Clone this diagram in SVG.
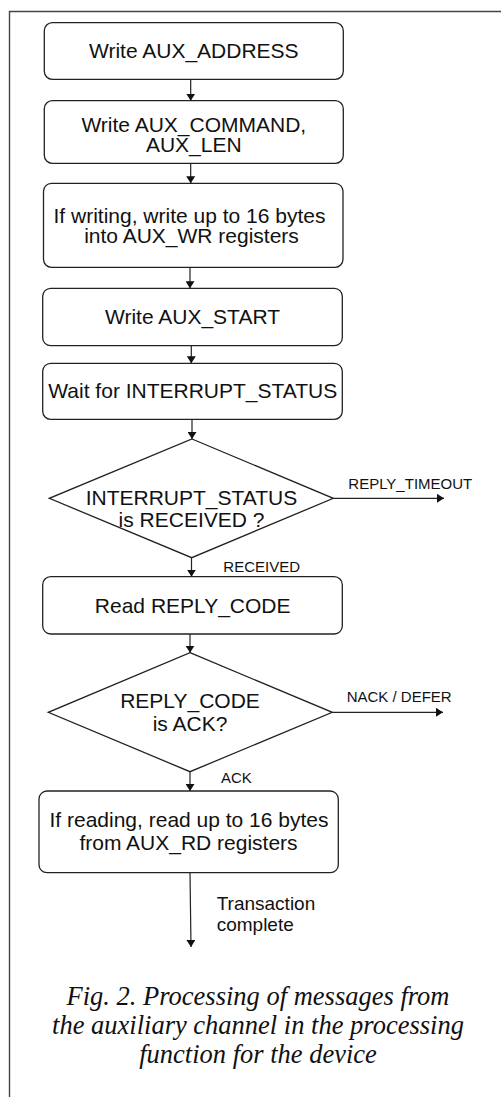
<svg xmlns="http://www.w3.org/2000/svg" width="501" height="1097" viewBox="0 0 501 1097">
<style>
.node{fill:#fff;stroke:#222;stroke-width:1.3}
.t{font-family:"Liberation Sans",Arial,sans-serif;font-size:21px;fill:#111;text-anchor:middle}
.l{font-family:"Liberation Sans",Arial,sans-serif;font-size:15px;fill:#111}
.lb{font-family:"Liberation Sans",Arial,sans-serif;font-size:19px;fill:#111}
.c{font-family:"Liberation Serif","Times New Roman",serif;font-style:italic;font-size:26.5px;fill:#111;text-anchor:middle}
.e{stroke:#222;stroke-width:1.2;fill:none;marker-end:url(#ah)}
</style>
<defs>
<marker id="ah" viewBox="0 0 10 10" refX="10" refY="5" markerWidth="7" markerHeight="9" markerUnits="userSpaceOnUse" orient="auto" preserveAspectRatio="none">
<path d="M0,0 L10,5 L0,10 z" fill="#111"/>
</marker>
</defs>
<rect width="501" height="1097" fill="#fff"/>
<path d="M9.5,1097 V11.5 H501" fill="none" stroke="#444" stroke-width="1.4"/>
<g id="n1"><rect class="node" x="44.3" y="22.7" width="299" height="56.6" rx="8"/><text class="t" x="193.8" y="58.3">Write AUX_ADDRESS</text></g>
<g id="n2"><rect class="node" x="44.3" y="100.7" width="299" height="62.6" rx="8"/><text class="t" x="193.8" y="132.3">Write AUX_COMMAND,</text><text class="t" x="193.8" y="151.7">AUX_LEN</text></g>
<g id="n3"><rect class="node" x="43.5" y="183.3" width="299.5" height="84" rx="8"/><text class="t" x="189.5" y="223.3">If writing, write up to 16 bytes</text><text class="t" x="191.5" y="243.3">into AUX_WR registers</text></g>
<g id="n4"><rect class="node" x="42.7" y="288.3" width="299.6" height="57.4" rx="8"/><text class="t" x="192.5" y="324">Write AUX_START</text></g>
<g id="n5"><rect class="node" x="42.7" y="363.3" width="299.6" height="56" rx="8"/><text class="t" x="192.8" y="397.7">Wait for INTERRUPT_STATUS</text></g>
<g id="d1"><path class="node" d="M192,439 L333.3,498.3 L191.7,557.7 L49.3,498.3 Z"/><text class="t" x="191.5" y="505">INTERRUPT_STATUS</text><text class="t" x="191.5" y="527.3">is RECEIVED ?</text></g>
<g id="n6"><rect class="node" x="42.7" y="576.7" width="299.6" height="57.3" rx="8"/><text class="t" x="192.7" y="612.7">Read REPLY_CODE</text></g>
<g id="d2"><path class="node" d="M190,652.7 L332.3,712.3 L190,771.7 L48.3,712.3 Z"/><text class="t" x="190" y="708.3">REPLY_CODE</text><text class="t" x="190" y="730.7">is ACK?</text></g>
<g id="n7"><rect class="node" x="39" y="791" width="299.3" height="81.7" rx="8"/><text class="t" x="189" y="826.7">If reading, read up to 16 bytes</text><text class="t" x="188.5" y="850">from AUX_RD registers</text></g>
<g id="edges">
<line class="e" x1="190.7" y1="79.3" x2="190.7" y2="100.7"/>
<line class="e" x1="190.7" y1="163.3" x2="190.7" y2="183.3"/>
<line class="e" x1="190" y1="267.3" x2="190" y2="288.3"/>
<line class="e" x1="191.3" y1="345.7" x2="191.3" y2="363.3"/>
<line class="e" x1="192" y1="419.3" x2="192" y2="439"/>
<line class="e" x1="333.3" y1="498.3" x2="444" y2="498.3"/>
<line class="e" x1="191.5" y1="557.7" x2="191.5" y2="576.7"/>
<line class="e" x1="190" y1="634" x2="190" y2="652.7"/>
<line class="e" x1="332.3" y1="712.3" x2="443" y2="712.3"/>
<line class="e" x1="190" y1="771.7" x2="190" y2="791"/>
<line class="e" x1="190" y1="872.7" x2="191" y2="947"/>
<text class="l" x="348.3" y="489.3">REPLY_TIMEOUT</text>
<text class="l" x="223.3" y="572.3">RECEIVED</text>
<text class="l" x="346.7" y="701.7">NACK / DEFER</text>
<text class="l" x="221" y="783.3">ACK</text>
<text class="lb" x="216.7" y="910">Transaction</text>
<text class="lb" x="216.7" y="931">complete</text>
</g>
<g id="caption">
<text class="c" x="258" y="1005">Fig. 2. Processing of messages from</text>
<text class="c" x="258" y="1034">the auxiliary channel in the processing</text>
<text class="c" x="258" y="1063">function for the device</text>
</g>
</svg>
